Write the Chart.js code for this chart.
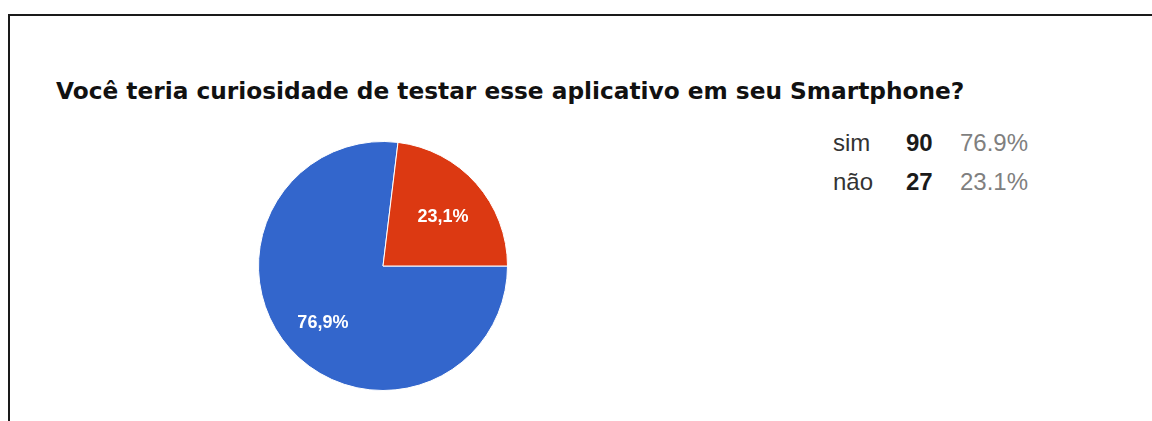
<!DOCTYPE html>
<html>
<head>
<meta charset="utf-8">
<script src="https://cdn.jsdelivr.net/npm/chart.js@4/dist/chart.umd.min.js"></script>
<style>
  html, body { margin: 0; padding: 0; background: #fff; width: 1152px; height: 421px; overflow: hidden; }
  .frame { position: absolute; left: 8px; top: 14px; width: 1200px; height: 500px;
           border-left: 2px solid #1a1a1a; border-top: 2px solid #1a1a1a; }
  .title { position: absolute; left: 56px; top: 77px; white-space: nowrap;
           font: bold 23.25px "DejaVu Sans", sans-serif; color: #111; }
  .pie { position: absolute; left: 258px; top: 141px; width: 250px; height: 250px; }
  .legend { position: absolute; left: 833px; top: 123px; border-collapse: collapse;
            font: 24px "Liberation Sans", Arial, sans-serif; }
  .legend td { padding: 0; line-height: 39px; text-align: left; white-space: nowrap; }
  .legend td.cat { color: #333; width: 73px; }
  .legend td.num { font-weight: bold; color: #1a1a1a; width: 54px; }
  .legend td.pct { color: #7f7f7f; }
</style>
</head>
<body>
<div class="frame"></div>
<div class="title" id="title"></div>
<div class="pie"><canvas id="pie"></canvas></div>
<table class="legend" id="legend"></table>
<script>
// Survey question and answers
const question = 'Você teria curiosidade de testar esse aplicativo em seu Smartphone?';
const categories = ['sim', 'não'];
const counts = [90, 27];
const sliceColors = ['#3366cc', '#dc3912'];

const total = counts.reduce((a, b) => a + b, 0);
const shares = counts.map(v => v / total * 100);

document.getElementById('title').textContent = question;

// Summary table: answer, count, share
const legend = document.getElementById('legend');
categories.forEach((c, i) => {
  const tr = document.createElement('tr');
  tr.innerHTML = '<td class="cat"></td><td class="num"></td><td class="pct"></td>';
  tr.children[0].textContent = c;
  tr.children[1].textContent = counts[i];
  tr.children[2].textContent = shares[i].toFixed(1) + '%';
  legend.appendChild(tr);
});

// Percentage labels drawn inside each slice
const sliceLabels = {
  id: 'sliceLabels',
  afterDatasetsDraw(chart) {
    const ctx = chart.ctx;
    const meta = chart.getDatasetMeta(0);
    ctx.save();
    ctx.fillStyle = '#ffffff';
    ctx.font = 'bold 18px "Liberation Sans", Arial, sans-serif';
    ctx.textAlign = 'center';
    ctx.textBaseline = 'middle';
    meta.data.forEach((arc, i) => {
      const p = arc.getProps(['x', 'y', 'startAngle', 'endAngle', 'outerRadius'], true);
      const mid = (p.startAngle + p.endAngle) / 2;
      const r = p.outerRadius * 0.645;
      const text = shares[i].toFixed(1).replace('.', ',') + '%';
      ctx.fillText(text, p.x + Math.cos(mid) * r, p.y + Math.sin(mid) * r + 4);
    });
    ctx.restore();
  }
};

new Chart(document.getElementById('pie'), {
  type: 'pie',
  data: {
    labels: categories,
    datasets: [{
      data: counts,
      backgroundColor: sliceColors,
      borderColor: '#ffffff',
      borderWidth: 1
    }]
  },
  options: {
    responsive: true,
    maintainAspectRatio: false,
    animation: false,
    rotation: 90,
    events: [],
    layout: { padding: 0 },
    plugins: {
      legend: { display: false },
      tooltip: { enabled: false },
      title: { display: false }
    }
  },
  plugins: [sliceLabels]
});
</script>
</body>
</html>
